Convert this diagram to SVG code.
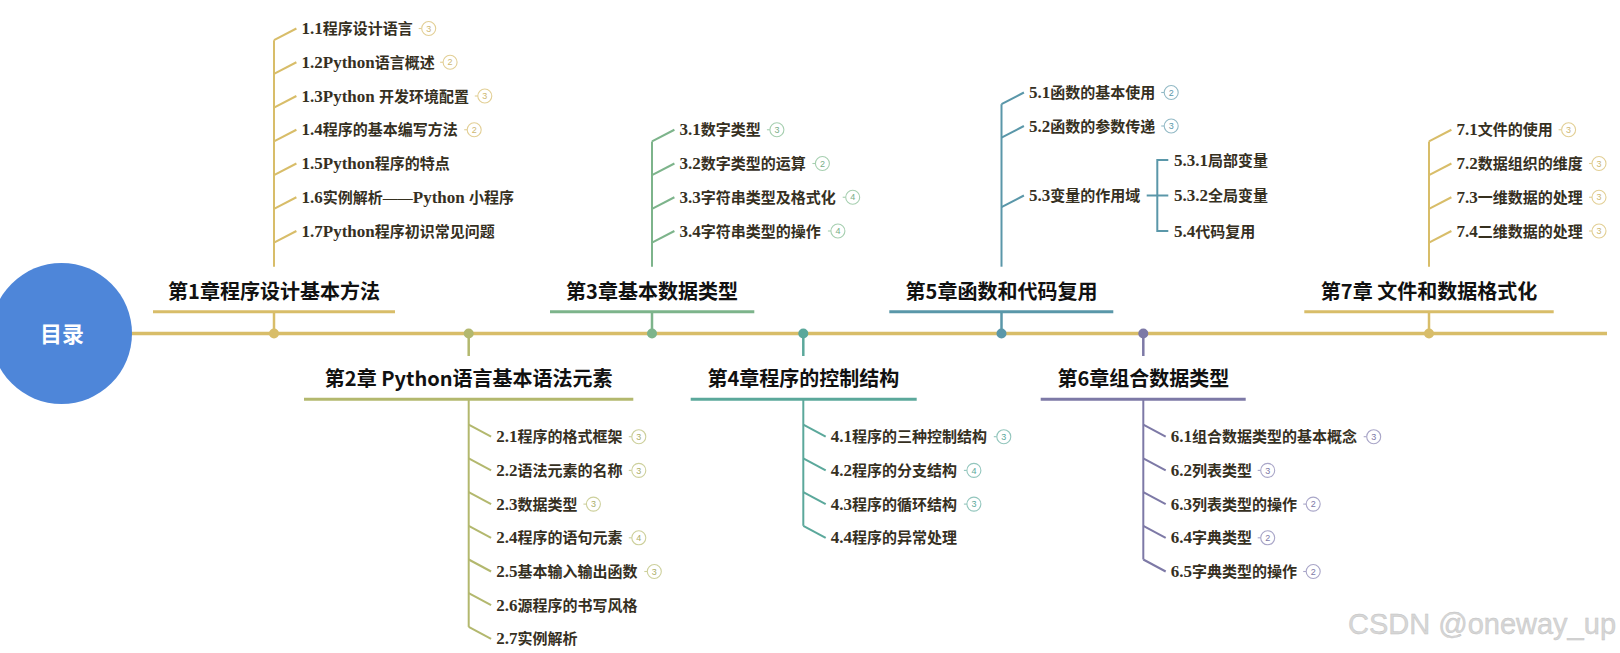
<svg xmlns="http://www.w3.org/2000/svg" width="1620" height="653" viewBox="0 0 1620 653">
<style>
.bg{fill:#ffffff}
.ln{fill:none;stroke-linecap:butt}
.main{stroke:#d8bd69;stroke-width:3.5}
.ul{stroke-width:3}
.st{stroke-width:2.5}
.br{stroke-width:2}
.c1{stroke:#d8bd69}.c2{stroke:#b3b86e}.c3{stroke:#7db48b}.c4{stroke:#5ba89b}.c5{stroke:#5a97a9}.c6{stroke:#7d79a6}.c7{stroke:#d8bd69}
.d1{fill:#d8bd69}.d2{fill:#b3b86e}.d3{fill:#7db48b}.d4{fill:#5ba89b}.d5{fill:#5a97a9}.d6{fill:#7d79a6}.d7{fill:#d8bd69}
.h{font-family:"Noto Sans CJK SC","Liberation Sans",sans-serif;font-size:20px;font-weight:bold;fill:#111111;text-anchor:middle}
.t{font-family:"Liberation Serif","Noto Sans CJK SC",serif;font-size:15px;font-weight:bold;fill:#36301f}
.L{font-size:17px}
.root{font-family:"Noto Sans CJK SC","Liberation Sans",sans-serif;font-size:22px;font-weight:bold;fill:#ffffff;text-anchor:middle}
.bd circle{fill:#ffffff;stroke-width:1.1}
.bd line{stroke-width:1.1}
.bd text{font-family:"Liberation Sans",sans-serif;font-size:9px;text-anchor:middle;stroke:none}
.k1 circle,.k1 line,.k7 circle,.k7 line{stroke:#e2cf95}.k1 text,.k7 text{fill:#cdb772}
.k2 circle,.k2 line{stroke:#cdd09c}.k2 text{fill:#aaae68}
.k3 circle,.k3 line{stroke:#a6cfb0}.k3 text{fill:#78ae87}
.k4 circle,.k4 line{stroke:#93c6bd}.k4 text{fill:#5ba89b}
.k5 circle,.k5 line{stroke:#93bac6}.k5 text{fill:#5a97a9}
.k6 circle,.k6 line{stroke:#a9a6c8}.k6 text{fill:#7d79a6}
.wm{font-family:"Liberation Sans",Arial,sans-serif;font-size:29px;fill:#d6d6d6;stroke:#c2c2c2;stroke-width:0.4}
</style>
<rect class="bg" x="0" y="0" width="1620" height="653"/>

<g id="connectors" class="ln">
  <line class="main" x1="62" y1="333.5" x2="1607" y2="333.5"/>
  <g class="c1">
    <line class="st" x1="274" y1="311.7" x2="274" y2="333.5"/>
    <line class="ul" x1="153" y1="311.7" x2="395" y2="311.7"/>
    <line class="br" x1="274" y1="40.2" x2="274" y2="266.7"/>
    <polyline class="br" points="274,40.2 296.4,28.5"/>
    <polyline class="br" points="274,73.95 296.4,62.25"/>
    <polyline class="br" points="274,107.7 296.4,96"/>
    <polyline class="br" points="274,141.45 296.4,129.75"/>
    <polyline class="br" points="274,175.2 296.4,163.5"/>
    <polyline class="br" points="274,208.95 296.4,197.25"/>
    <polyline class="br" points="274,242.7 296.4,231"/>
  </g>
  <circle class="d1" cx="274" cy="333.5" r="5"/>
  <g class="c2">
    <line class="st" x1="468.7" y1="333.5" x2="468.7" y2="356"/>
    <line class="ul" x1="304" y1="399.3" x2="633.3" y2="399.3"/>
    <line class="br" x1="468.7" y1="399.3" x2="468.7" y2="626.9"/>
    <polyline class="br" points="468.7,424.7 491.1,436.7"/>
    <polyline class="br" points="468.7,458.4 491.1,470.4"/>
    <polyline class="br" points="468.7,492.1 491.1,504.1"/>
    <polyline class="br" points="468.7,525.8 491.1,537.8"/>
    <polyline class="br" points="468.7,559.5 491.1,571.5"/>
    <polyline class="br" points="468.7,593.2 491.1,605.2"/>
    <polyline class="br" points="468.7,626.9 491.1,638.9"/>
  </g>
  <circle class="d2" cx="468.7" cy="333.5" r="5"/>
  <g class="c3">
    <line class="st" x1="652" y1="311.7" x2="652" y2="333.5"/>
    <line class="ul" x1="550" y1="311.7" x2="754.3" y2="311.7"/>
    <line class="br" x1="652" y1="141.45" x2="652" y2="266.7"/>
    <polyline class="br" points="652,141.45 674.4,129.75"/>
    <polyline class="br" points="652,175.2 674.4,163.5"/>
    <polyline class="br" points="652,208.95 674.4,197.25"/>
    <polyline class="br" points="652,242.7 674.4,231"/>
  </g>
  <circle class="d3" cx="652" cy="333.5" r="5"/>
  <g class="c4">
    <line class="st" x1="803.3" y1="333.5" x2="803.3" y2="356"/>
    <line class="ul" x1="690.7" y1="399.3" x2="916.7" y2="399.3"/>
    <line class="br" x1="803.3" y1="399.3" x2="803.3" y2="525.8"/>
    <polyline class="br" points="803.3,424.7 825.7,436.7"/>
    <polyline class="br" points="803.3,458.4 825.7,470.4"/>
    <polyline class="br" points="803.3,492.1 825.7,504.1"/>
    <polyline class="br" points="803.3,525.8 825.7,537.8"/>
  </g>
  <circle class="d4" cx="803.3" cy="333.5" r="5"/>
  <g class="c5">
    <line class="st" x1="1001.5" y1="311.7" x2="1001.5" y2="333.5"/>
    <line class="ul" x1="889.3" y1="311.7" x2="1113.3" y2="311.7"/>
    <line class="br" x1="1001.5" y1="104.2" x2="1001.5" y2="266.7"/>
    <polyline class="br" points="1001.5,104.2 1023.9,92.5"/>
    <polyline class="br" points="1001.5,137.7 1023.9,126"/>
    <polyline class="br" points="1001.5,207.2 1023.9,195.5"/>
    <line class="br" x1="1146.7" y1="195.5" x2="1168.3" y2="195.5"/>
    <polyline class="br" points="1168.3,160 1157.3,160 1157.3,231 1168.3,231"/>
  </g>
  <circle class="d5" cx="1001.5" cy="333.5" r="5"/>
  <g class="c6">
    <line class="st" x1="1143.3" y1="333.5" x2="1143.3" y2="356"/>
    <line class="ul" x1="1040.7" y1="399.3" x2="1245.7" y2="399.3"/>
    <line class="br" x1="1143.3" y1="399.3" x2="1143.3" y2="559.5"/>
    <polyline class="br" points="1143.3,424.7 1165.7,436.7"/>
    <polyline class="br" points="1143.3,458.4 1165.7,470.4"/>
    <polyline class="br" points="1143.3,492.1 1165.7,504.1"/>
    <polyline class="br" points="1143.3,525.8 1165.7,537.8"/>
    <polyline class="br" points="1143.3,559.5 1165.7,571.5"/>
  </g>
  <circle class="d6" cx="1143.3" cy="333.5" r="5"/>
  <g class="c7">
    <line class="st" x1="1429" y1="311.7" x2="1429" y2="333.5"/>
    <line class="ul" x1="1304.3" y1="311.7" x2="1553.7" y2="311.7"/>
    <line class="br" x1="1429" y1="141.45" x2="1429" y2="266.7"/>
    <polyline class="br" points="1429,141.45 1451.4,129.75"/>
    <polyline class="br" points="1429,175.2 1451.4,163.5"/>
    <polyline class="br" points="1429,208.95 1451.4,197.25"/>
    <polyline class="br" points="1429,242.7 1451.4,231"/>
  </g>
  <circle class="d7" cx="1429" cy="333.5" r="5"/>
</g>

<g id="root">
  <circle cx="61.5" cy="333.5" r="70.5" fill="#4e86d9"/>
  <text class="root" x="62" y="341.5">目录</text>
</g>

<g id="ch1">
  <text class="h" x="274" y="299.2">第1章程序设计基本方法</text>
  <g id="n1-1"><text class="t" x="301.5" y="34"><tspan class="L">1.1</tspan>程序设计语言</text><g class="bd k1"><line x1="418.7" y1="28.5" x2="421.7" y2="28.5"/><circle cx="428.7" cy="28.5" r="7"/><text x="428.7" y="31.7">3</text></g></g>
  <g id="n1-2"><text class="t" x="301.5" y="67.75"><tspan class="L">1.2Python</tspan>语言概述</text><g class="bd k1"><line x1="440.1" y1="62.25" x2="443.1" y2="62.25"/><circle cx="450.1" cy="62.25" r="7"/><text x="450.1" y="65.45">2</text></g></g>
  <g id="n1-3"><text class="t" x="301.5" y="101.5"><tspan class="L">1.3Python </tspan>开发环境配置</text><g class="bd k1"><line x1="474.8" y1="96" x2="477.8" y2="96"/><circle cx="484.8" cy="96" r="7"/><text x="484.8" y="99.2">3</text></g></g>
  <g id="n1-4"><text class="t" x="301.5" y="135.25"><tspan class="L">1.4</tspan>程序的基本编写方法</text><g class="bd k1"><line x1="464.2" y1="129.75" x2="467.2" y2="129.75"/><circle cx="474.2" cy="129.75" r="7"/><text x="474.2" y="132.95">2</text></g></g>
  <g id="n1-5"><text class="t" x="301.5" y="169"><tspan class="L">1.5Python</tspan>程序的特点</text></g>
  <g id="n1-6"><text class="t" x="301.5" y="202.75"><tspan class="L">1.6</tspan>实例解析——<tspan class="L">Python </tspan>小程序</text></g>
  <g id="n1-7"><text class="t" x="301.5" y="236.5"><tspan class="L">1.7Python</tspan>程序初识常见问题</text></g>
</g>

<g id="ch2">
  <text class="h" x="468.7" y="385.8">第2章 Python语言基本语法元素</text>
  <g id="n2-1"><text class="t" x="496.2" y="442.2"><tspan class="L">2.1</tspan>程序的格式框架</text><g class="bd k2"><line x1="628.8" y1="436.7" x2="631.8" y2="436.7"/><circle cx="638.8" cy="436.7" r="7"/><text x="638.8" y="439.9">3</text></g></g>
  <g id="n2-2"><text class="t" x="496.2" y="475.9"><tspan class="L">2.2</tspan>语法元素的名称</text><g class="bd k2"><line x1="628.8" y1="470.4" x2="631.8" y2="470.4"/><circle cx="638.8" cy="470.4" r="7"/><text x="638.8" y="473.6">3</text></g></g>
  <g id="n2-3"><text class="t" x="496.2" y="509.6"><tspan class="L">2.3</tspan>数据类型</text><g class="bd k2"><line x1="583.4" y1="504.1" x2="586.4" y2="504.1"/><circle cx="593.4" cy="504.1" r="7"/><text x="593.4" y="507.3">3</text></g></g>
  <g id="n2-4"><text class="t" x="496.2" y="543.3"><tspan class="L">2.4</tspan>程序的语句元素</text><g class="bd k2"><line x1="628.8" y1="537.8" x2="631.8" y2="537.8"/><circle cx="638.8" cy="537.8" r="7"/><text x="638.8" y="541">4</text></g></g>
  <g id="n2-5"><text class="t" x="496.2" y="577"><tspan class="L">2.5</tspan>基本输入输出函数</text><g class="bd k2"><line x1="644.3" y1="571.5" x2="647.3" y2="571.5"/><circle cx="654.3" cy="571.5" r="7"/><text x="654.3" y="574.7">3</text></g></g>
  <g id="n2-6"><text class="t" x="496.2" y="610.7"><tspan class="L">2.6</tspan>源程序的书写风格</text></g>
  <g id="n2-7"><text class="t" x="496.2" y="644.4"><tspan class="L">2.7</tspan>实例解析</text></g>
</g>

<g id="ch3">
  <text class="h" x="652" y="299.2">第3章基本数据类型</text>
  <g id="n3-1"><text class="t" x="679.5" y="135.25"><tspan class="L">3.1</tspan>数字类型</text><g class="bd k3"><line x1="766.9" y1="129.75" x2="769.9" y2="129.75"/><circle cx="776.9" cy="129.75" r="7"/><text x="776.9" y="132.95">3</text></g></g>
  <g id="n3-2"><text class="t" x="679.5" y="169"><tspan class="L">3.2</tspan>数字类型的运算</text><g class="bd k3"><line x1="812.4" y1="163.5" x2="815.4" y2="163.5"/><circle cx="822.4" cy="163.5" r="7"/><text x="822.4" y="166.7">2</text></g></g>
  <g id="n3-3"><text class="t" x="679.5" y="202.75"><tspan class="L">3.3</tspan>字符串类型及格式化</text><g class="bd k3"><line x1="842.7" y1="197.25" x2="845.7" y2="197.25"/><circle cx="852.7" cy="197.25" r="7"/><text x="852.7" y="200.45">4</text></g></g>
  <g id="n3-4"><text class="t" x="679.5" y="236.5"><tspan class="L">3.4</tspan>字符串类型的操作</text><g class="bd k3"><line x1="827.9" y1="231" x2="830.9" y2="231"/><circle cx="837.9" cy="231" r="7"/><text x="837.9" y="234.2">4</text></g></g>
</g>

<g id="ch4">
  <text class="h" x="803.3" y="385.8">第4章程序的控制结构</text>
  <g id="n4-1"><text class="t" x="830.8" y="442.2"><tspan class="L">4.1</tspan>程序的三种控制结构</text><g class="bd k4"><line x1="993.8" y1="436.7" x2="996.8" y2="436.7"/><circle cx="1003.8" cy="436.7" r="7"/><text x="1003.8" y="439.9">3</text></g></g>
  <g id="n4-2"><text class="t" x="830.8" y="475.9"><tspan class="L">4.2</tspan>程序的分支结构</text><g class="bd k4"><line x1="963.9" y1="470.4" x2="966.9" y2="470.4"/><circle cx="973.9" cy="470.4" r="7"/><text x="973.9" y="473.6">4</text></g></g>
  <g id="n4-3"><text class="t" x="830.8" y="509.6"><tspan class="L">4.3</tspan>程序的循环结构</text><g class="bd k4"><line x1="963.9" y1="504.1" x2="966.9" y2="504.1"/><circle cx="973.9" cy="504.1" r="7"/><text x="973.9" y="507.3">3</text></g></g>
  <g id="n4-4"><text class="t" x="830.8" y="543.3"><tspan class="L">4.4</tspan>程序的异常处理</text></g>
</g>

<g id="ch5">
  <text class="h" x="1001.5" y="299.2">第5章函数和代码复用</text>
  <g id="n5-1"><text class="t" x="1029" y="98"><tspan class="L">5.1</tspan>函数的基本使用</text><g class="bd k5"><line x1="1161.2" y1="92.5" x2="1164.2" y2="92.5"/><circle cx="1171.2" cy="92.5" r="7"/><text x="1171.2" y="95.7">2</text></g></g>
  <g id="n5-2"><text class="t" x="1029" y="131.5"><tspan class="L">5.2</tspan>函数的参数传递</text><g class="bd k5"><line x1="1161.2" y1="126" x2="1164.2" y2="126"/><circle cx="1171.2" cy="126" r="7"/><text x="1171.2" y="129.2">3</text></g></g>
  <g id="n5-3"><text class="t" x="1029" y="201"><tspan class="L">5.3</tspan>变量的作用域</text></g>
  <g id="n5-3-1"><text class="t" x="1174" y="165.5"><tspan class="L">5.3.1</tspan>局部变量</text></g>
  <g id="n5-3-2"><text class="t" x="1174" y="201"><tspan class="L">5.3.2</tspan>全局变量</text></g>
  <g id="n5-4"><text class="t" x="1174" y="236.5"><tspan class="L">5.4</tspan>代码复用</text></g>
</g>

<g id="ch6">
  <text class="h" x="1143.3" y="385.8">第6章组合数据类型</text>
  <g id="n6-1"><text class="t" x="1170.8" y="442.2"><tspan class="L">6.1</tspan>组合数据类型的基本概念</text><g class="bd k6"><line x1="1363.7" y1="436.7" x2="1366.7" y2="436.7"/><circle cx="1373.7" cy="436.7" r="7"/><text x="1373.7" y="439.9">3</text></g></g>
  <g id="n6-2"><text class="t" x="1170.8" y="475.9"><tspan class="L">6.2</tspan>列表类型</text><g class="bd k6"><line x1="1257.7" y1="470.4" x2="1260.7" y2="470.4"/><circle cx="1267.7" cy="470.4" r="7"/><text x="1267.7" y="473.6">3</text></g></g>
  <g id="n6-3"><text class="t" x="1170.8" y="509.6"><tspan class="L">6.3</tspan>列表类型的操作</text><g class="bd k6"><line x1="1303.2" y1="504.1" x2="1306.2" y2="504.1"/><circle cx="1313.2" cy="504.1" r="7"/><text x="1313.2" y="507.3">2</text></g></g>
  <g id="n6-4"><text class="t" x="1170.8" y="543.3"><tspan class="L">6.4</tspan>字典类型</text><g class="bd k6"><line x1="1257.7" y1="537.8" x2="1260.7" y2="537.8"/><circle cx="1267.7" cy="537.8" r="7"/><text x="1267.7" y="541">2</text></g></g>
  <g id="n6-5"><text class="t" x="1170.8" y="577"><tspan class="L">6.5</tspan>字典类型的操作</text><g class="bd k6"><line x1="1303.2" y1="571.5" x2="1306.2" y2="571.5"/><circle cx="1313.2" cy="571.5" r="7"/><text x="1313.2" y="574.7">2</text></g></g>
</g>

<g id="ch7">
  <text class="h" x="1429" y="299.2">第7章 文件和数据格式化</text>
  <g id="n7-1"><text class="t" x="1456.5" y="135.25"><tspan class="L">7.1</tspan>文件的使用</text><g class="bd k7"><line x1="1558.6" y1="129.75" x2="1561.6" y2="129.75"/><circle cx="1568.6" cy="129.75" r="7"/><text x="1568.6" y="132.95">3</text></g></g>
  <g id="n7-2"><text class="t" x="1456.5" y="169"><tspan class="L">7.2</tspan>数据组织的维度</text><g class="bd k7"><line x1="1589" y1="163.5" x2="1592" y2="163.5"/><circle cx="1599" cy="163.5" r="7"/><text x="1599" y="166.7">3</text></g></g>
  <g id="n7-3"><text class="t" x="1456.5" y="202.75"><tspan class="L">7.3</tspan>一维数据的处理</text><g class="bd k7"><line x1="1589" y1="197.25" x2="1592" y2="197.25"/><circle cx="1599" cy="197.25" r="7"/><text x="1599" y="200.45">3</text></g></g>
  <g id="n7-4"><text class="t" x="1456.5" y="236.5"><tspan class="L">7.4</tspan>二维数据的处理</text><g class="bd k7"><line x1="1589" y1="231" x2="1592" y2="231"/><circle cx="1599" cy="231" r="7"/><text x="1599" y="234.2">3</text></g></g>
</g>

<text class="wm" x="1348" y="634">CSDN @oneway_up</text>
</svg>
